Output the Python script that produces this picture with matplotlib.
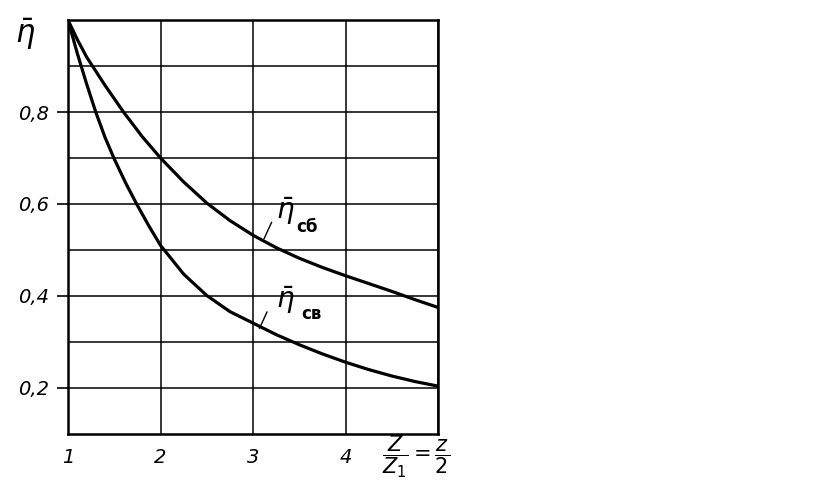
import matplotlib.pyplot as plt

# values
x_sb = [1, 1.1, 1.2, 1.4, 1.6, 1.8, 2.0, 2.25, 2.5, 2.75, 3.0, 3.25, 3.5, 3.75, 4.0, 4.25, 4.5, 4.75, 5.0]
eta_sb = [1.0, 0.958, 0.92, 0.858, 0.80, 0.747, 0.70, 0.648, 0.602, 0.564, 0.532, 0.505, 0.482, 0.462, 0.444, 0.427, 0.41, 0.392, 0.375]
x_sv = [1, 1.1, 1.2, 1.3, 1.4, 1.5, 1.625, 1.75, 1.875, 2.0, 2.25, 2.5, 2.75, 3.0, 3.25, 3.5, 3.75, 4.0, 4.25, 4.5, 4.75, 5.0]
eta_sv = [1.0, 0.928, 0.862, 0.80, 0.745, 0.698, 0.645, 0.597, 0.552, 0.51, 0.4475, 0.401, 0.366, 0.341, 0.316, 0.294, 0.274, 0.256, 0.24, 0.226, 0.214, 0.204]

x_labels = ['1', '2', '3', '4']
y_ticks = [0.2, 0.4, 0.6, 0.8]
y_labels = ['0,2', '0,4', '0,6', '0,8']
y_grid = [0.3, 0.5, 0.7, 0.9]

fig = plt.figure(figsize=(8.19, 4.94), dpi=100)
ax = fig.add_axes([0.083, 0.1215, 0.452, 0.838])

ax.plot(x_sb, eta_sb, color='black', lw=2.3, solid_capstyle='round', solid_joinstyle='round')
ax.plot(x_sv, eta_sv, color='black', lw=2.3, solid_capstyle='round', solid_joinstyle='round')

ax.set_xlim(1, 5)
ax.set_ylim(0.1, 1.0)
ax.set_xticks([1, 2, 3, 4, 5])
ax.set_xticklabels(x_labels + [''], fontsize=14, style='italic')
ax.set_yticks(y_ticks)
ax.set_yticklabels(y_labels, fontsize=14, style='italic')
ax.set_yticks(y_grid, minor=True)
ax.tick_params(axis='x', length=0, pad=10)
ax.tick_params(axis='y', which='major', length=8, width=1.2, pad=6)
ax.tick_params(axis='y', which='minor', length=0)
ax.grid(True, which='both', color='black', lw=1.1)
for s in ax.spines.values():
    s.set_linewidth(1.8)

# axis label and curve labels
fig.text(0.018, 0.93, r'$\bar{\eta}$', fontsize=22, ha='left', va='center')
ax.text(3.25, 0.585, r'$\bar{\eta}$', fontsize=20, ha='left', va='center')
ax.text(3.47, 0.55, 'сб', fontsize=12, fontweight='bold', ha='left', va='center')
ax.plot([3.12, 3.2], [0.525, 0.56], color='black', lw=1.0)
ax.text(3.25, 0.39, r'$\bar{\eta}$', fontsize=20, ha='left', va='center')
ax.text(3.52, 0.36, 'св', fontsize=12, fontweight='bold', ha='left', va='center')
ax.plot([3.07, 3.15], [0.33, 0.365], color='black', lw=1.0)

fig.text(0.466, 0.075, r'$\dfrac{Z}{Z_1}=\dfrac{z}{2}$', fontsize=15, ha='left', va='center')

fig.savefig('out.png', dpi=100)
